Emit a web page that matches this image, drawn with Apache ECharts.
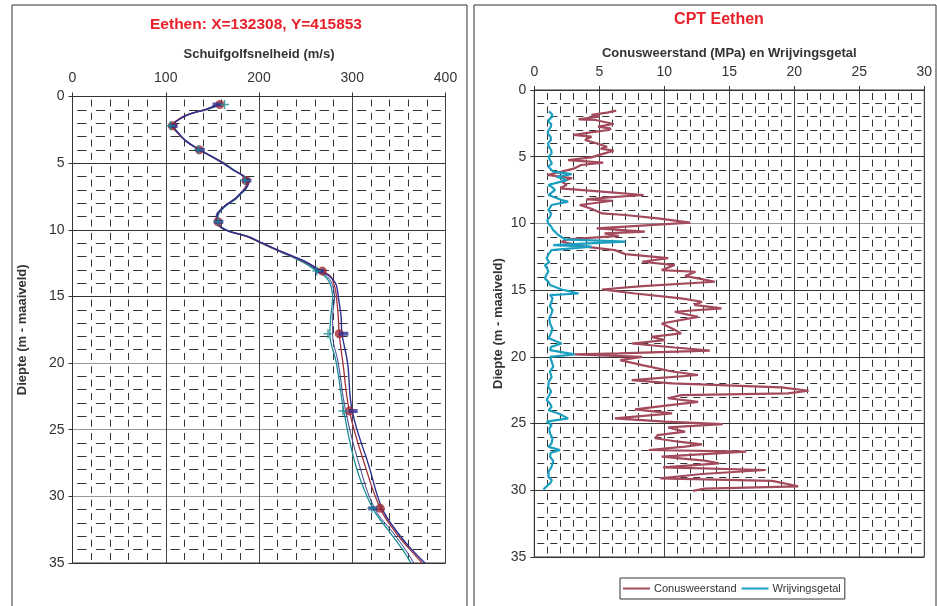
<!DOCTYPE html>
<html><head><meta charset="utf-8">
<script src="https://cdn.jsdelivr.net/npm/echarts@6/dist/echarts.min.js"></script>
<style>html,body{margin:0;padding:0;background:#fff}#c{width:937px;height:606px}</style>
</head><body><div id="c"></div>
<script>
// ---- Left chart: shear wave velocity profiles ----
const velDepth   = [0.6,0.96,1.39,1.89,2.2,2.6,3.35,4.0,5.0,5.5,5.9,6.35,6.8,7.3,7.7,8.3,9.0,9.5,10.0,10.5,11.0,11.5,12.0,12.5,13.1,13.5,14.0,14.5,15.0,16.5,17.8,20.0,23.6,27.75,30.9,32.75,34.0,35.0];
const velRed     = [158,144,122,110,107,111,122,136,162,172,182,188,186,180,174,162,155,155,164,187,203,219,236,252,268,277,280,282,283,285,286,290,297,314,330,347,362,375];
const velTeal    = [161,145,123,110,106,111,122,136,163,173,182,188,187,181,175,163,156,156,165,188,203,218,234,249,262,271,276,278,279,277,276,283,291,304,322,341,354,363];
const velNavy2   = [157,143,122,110,108,111,121,136,162,172,181,187,185,179,173,161,154,155,163,186,202,218,235,251,264,273,278,280,281,279,279,285,293,308,324,344,357,366];
const velNavy    = [156,143,123,111,108,112,122,137,161,172,182,189,187,180,174,162,155,156,164,188,204,220,237,253,266,276,282,284,285,288,289,295,300,318,332,349,364,378];
const markDepth  = [0.6,2.2,4.0,6.3,9.4,13.1,17.8,23.6,30.9];
const markRed    = [158,107,136,186,156,268,286,297,330];
const markNavy   = [155,108,137,187,157,265,291,301,322];
const markTeal   = [163,105,135,185,156,262,274,290,321];
const velTicks   = [0,100,200,300,400];
const depthTicks = [0,5,10,15,20,25,30,35];

// ---- Right chart: CPT ----
const coneDepth = [1.55,1.7,1.87,2.0,2.2,2.25,2.4,2.55,2.75,2.9,3.0,3.2,3.37,3.5,3.75,4.0,4.25,4.4,4.55,4.75,5.05,5.25,5.45,5.62,5.87,6.12,6.37,6.6,6.87,7.1,7.37,7.62,7.87,8.05,8.2,8.3,8.62,8.9,9.25,9.37,9.62,9.94,10.24,10.37,10.62,10.74,10.94,11.2,11.37,11.74,12.0,12.3,12.6,12.87,13.12,13.5,13.62,13.95,14.12,14.37,14.7,14.95,15.25,15.62,15.87,16.1,16.37,16.62,17.0,17.5,17.87,18.24,18.5,18.74,19.0,19.3,19.54,19.74,19.82,20.0,20.24,20.62,21.1,21.36,21.74,21.99,22.29,22.54,22.74,22.87,23.1,23.37,23.6,23.94,24.24,24.61,24.86,25.04,25.29,25.61,25.86,26.1,26.36,26.56,26.73,26.98,27.1,27.48,27.78,27.98,28.28,28.48,28.78,29.1,29.3,29.7,29.87,30.04];
const coneVal   = [6.3,5.6,4.4,5.0,3.4,4.7,5.4,6.1,4.9,5.9,5.7,4.2,3.0,4.4,3.9,4.8,5.6,5.1,6.1,5.4,4.4,2.6,5.3,3.6,3.1,2.1,1.0,2.9,2.1,2.5,2.0,5.2,8.4,5.7,4.0,6.0,3.5,4.4,5.2,7.0,9.5,12.0,7.0,4.8,8.5,5.4,6.5,2.6,2.1,3.9,6.2,7.0,10.3,8.3,10.8,9.8,12.4,11.6,12.6,13.9,8.3,5.2,7.75,11.3,12.9,12.3,14.4,10.8,12.6,9.8,10.6,11.3,9.0,10.05,7.5,10.8,13.5,6.5,3.1,8.3,6.6,8.3,10.6,12.6,7.5,10.6,19.0,21.1,19.5,11.3,10.3,12.6,10.6,7.75,10.6,6.2,10.05,14.5,10.3,11.6,9.5,9.3,11.1,12.9,11.6,8.8,16.3,9.8,13.1,14.2,9.9,17.8,12.9,9.7,18.3,20.3,13.1,12.2];
const fricDepth = [1.6,1.8,2.0,2.2,2.37,2.55,2.75,3.0,3.25,3.5,3.75,4.0,4.25,4.5,4.75,5.0,5.25,5.5,5.75,6.12,6.3,6.5,6.75,7.12,7.3,7.5,7.87,8.25,8.37,8.62,9.0,9.25,9.5,9.75,10.0,10.25,10.5,10.87,11.2,11.37,11.62,11.74,12.0,12.3,12.62,12.9,13.12,13.4,13.62,13.9,14.12,14.4,14.62,14.95,15.25,15.37,15.6,15.87,16.2,16.5,16.74,17.1,17.5,17.9,18.24,18.6,19.0,19.25,19.5,19.82,20.0,20.4,20.74,21.1,21.5,21.9,22.24,22.6,22.99,23.24,23.5,23.74,24.0,24.24,24.61,24.86,25.1,25.4,25.74,26.1,26.48,26.75,26.98,27.2,27.48,27.8,28.23,28.6,28.98,29.25,29.48,29.7,29.93];
const fricVal   = [1.13,1.35,1.39,1.15,1.08,1.3,1.28,1.1,1.03,1.25,1.28,1.05,1.13,1.3,1.33,1.1,1.21,1.35,1.08,1.46,2.87,1.72,2.49,1.08,1.4,1.59,1.08,2.1,2.6,1.33,1.08,1.3,1.21,1.0,1.08,1.3,1.46,1.85,2.36,7.0,1.46,4.4,1.33,1.1,0.95,1.15,0.82,1.0,1.08,0.9,0.82,1.1,1.21,2.1,3.4,1.21,1.4,1.33,1.2,1.4,1.33,1.15,1.21,1.4,1.28,1.1,2.1,1.3,1.21,3.1,1.21,1.35,1.46,1.2,1.33,1.1,1.08,1.3,1.08,0.95,1.2,1.33,1.1,1.85,2.6,0.95,1.33,1.15,1.21,1.4,1.33,1.1,1.98,1.25,1.21,1.45,1.33,1.1,1.08,1.35,1.21,0.95,0.7];
const cptTicks = [0,5,10,15,20,25,30];

const zip = (xs, ys) => xs.map((x, i) => [x, ys[i]]);
const FONT = '"Liberation Sans", Arial, sans-serif';
const plusPath = 'path://M0,4H8M4,0V8';

function valueAxis(extra, dash, dashOffset, splitColors){
  return Object.assign({
    type:'value',
    axisLine:{show:true,lineStyle:{color:'#333',width:1}},
    axisTick:{show:true,length:4,lineStyle:{color:'#333'}},
    splitLine:{show:true,lineStyle:{color:splitColors || '#444',width:1}},
    minorTick:{show:false,splitNumber:5},
    minorSplitLine:{show:true,lineStyle:{color:'#333',width:1,type:dash,dashOffset:dashOffset}},
    nameTextStyle:{color:'#333',fontSize:13,fontWeight:'bold',fontFamily:FONT}
  }, extra);
}
const tickLabel = m => ({color:'#333',fontSize:14,fontFamily:FONT,margin:m});

const option = {
  animation:false,
  backgroundColor:'#fff',
  grid:[
    {left:72.5, top:96.5, width:373, height:466.5, show:true, borderColor:'#333', borderWidth:1},
    {left:534.3, top:90, width:390, height:467, show:true, borderColor:'#333', borderWidth:1}
  ],
  xAxis:[
    valueAxis({gridIndex:0, position:'top', min:velTicks[0], max:velTicks[velTicks.length-1], interval:100,
      name:'Schuifgolfsnelheid (m/s)', nameLocation:'middle', nameGap:36, axisLabel:tickLabel(11)}, [7,6.34], -3),
    valueAxis({gridIndex:1, position:'top', min:cptTicks[0], max:cptTicks[cptTicks.length-1], interval:5,
      name:'Conusweerstand (MPa) en Wrijvingsgetal', nameLocation:'middle', nameGap:29, axisLabel:tickLabel(11)}, [7,6.34], -3)
  ],
  yAxis:[
    valueAxis({gridIndex:0, inverse:true, min:depthTicks[0], max:depthTicks[depthTicks.length-1], interval:5,
      name:'Diepte (m - maaiveld)', nameLocation:'middle', nameGap:44, axisLabel:tickLabel(8)}, [9.3,9.35], -4.7,
      ['#333','#333','#333','#333','#999','#999','#999','#333']),
    valueAxis({gridIndex:1, inverse:true, min:depthTicks[0], max:depthTicks[depthTicks.length-1], interval:5,
      name:'Diepte (m - maaiveld)', nameLocation:'middle', nameGap:29, axisLabel:tickLabel(8)}, [7,6], -3,
      ['#333','#333','#999','#333','#333','#333','#333','#333'])
  ],
  legend:{
    data:['Conusweerstand','Wrijvingsgetal'],
    left:620, top:578, orient:'horizontal',
    borderColor:'#333', borderWidth:1, borderRadius:0, padding:[5,4,5,3],
    itemWidth:27, itemHeight:2, itemGap:5, icon:'rect',
    textStyle:{color:'#333',fontSize:11,fontFamily:FONT,padding:[0,0,0,-1]}
  },
  graphic:[
    {type:'rect', shape:{x:12,y:5,width:455,height:610}, style:{fill:'none',stroke:'#333',lineWidth:1}, silent:true, z:-1},
    {type:'rect', shape:{x:474,y:5,width:462,height:610}, style:{fill:'none',stroke:'#333',lineWidth:1}, silent:true, z:-1},
    {type:'text', x:256, y:25, style:{text:'Eethen: X=132308, Y=415853', fill:'#e8202a', font:'bold 15.5px '+FONT, align:'center', verticalAlign:'middle'}},
    {type:'text', x:719, y:20, style:{text:'CPT Eethen', fill:'#e8202a', font:'bold 16px '+FONT, align:'center', verticalAlign:'middle'}}
  ],
  series:[
    {name:'Vs teal', type:'line', xAxisIndex:0, yAxisIndex:0, data:zip(velTeal, velDepth), smooth:0.4, showSymbol:false, lineStyle:{color:'#1a8f96',width:1.3}, z:3},
    {name:'Vs navy2', type:'line', xAxisIndex:0, yAxisIndex:0, data:zip(velNavy2, velDepth), smooth:0.4, showSymbol:false, lineStyle:{color:'#3a3f94',width:1}, z:3},
    {name:'Vs red', type:'line', xAxisIndex:0, yAxisIndex:0, data:zip(velRed, velDepth), smooth:0.4, showSymbol:false, lineStyle:{color:'#a3303a',width:1.3}, z:4},
    {name:'Vs navy', type:'line', xAxisIndex:0, yAxisIndex:0, data:zip(velNavy, velDepth), smooth:0.4, showSymbol:false, lineStyle:{color:'#2c3192',width:1.4}, z:4},
    {name:'m red', type:'scatter', xAxisIndex:0, yAxisIndex:0, data:zip(markRed, markDepth), symbol:'circle', symbolSize:9, itemStyle:{color:'#a02a36'}, z:6},
    {name:'m navy', type:'scatter', xAxisIndex:0, yAxisIndex:0, data:zip(markNavy, markDepth), symbol:'rect', symbolSize:[9,4], itemStyle:{color:'#2c3192'}, z:7},
    {name:'m teal', type:'scatter', xAxisIndex:0, yAxisIndex:0, data:zip(markTeal, markDepth), symbol:plusPath, symbolSize:9, itemStyle:{color:'none',borderColor:'#1a8f96',borderWidth:1.5}, z:7},
    {name:'Conusweerstand', type:'line', xAxisIndex:1, yAxisIndex:1, data:zip(coneVal, coneDepth), showSymbol:false, symbol:'none', lineStyle:{color:'#a34a5c',width:2.2}, itemStyle:{color:'#a34a5c'}, z:4},
    {name:'Wrijvingsgetal', type:'line', xAxisIndex:1, yAxisIndex:1, data:zip(fricVal, fricDepth), showSymbol:false, symbol:'none', lineStyle:{color:'#1b9fc0',width:2.2}, itemStyle:{color:'#1b9fc0'}, z:4}
  ]
};
const chart = echarts.init(document.getElementById('c'), null, {renderer:'canvas'});
chart.setOption(option);
</script>
</body></html>
